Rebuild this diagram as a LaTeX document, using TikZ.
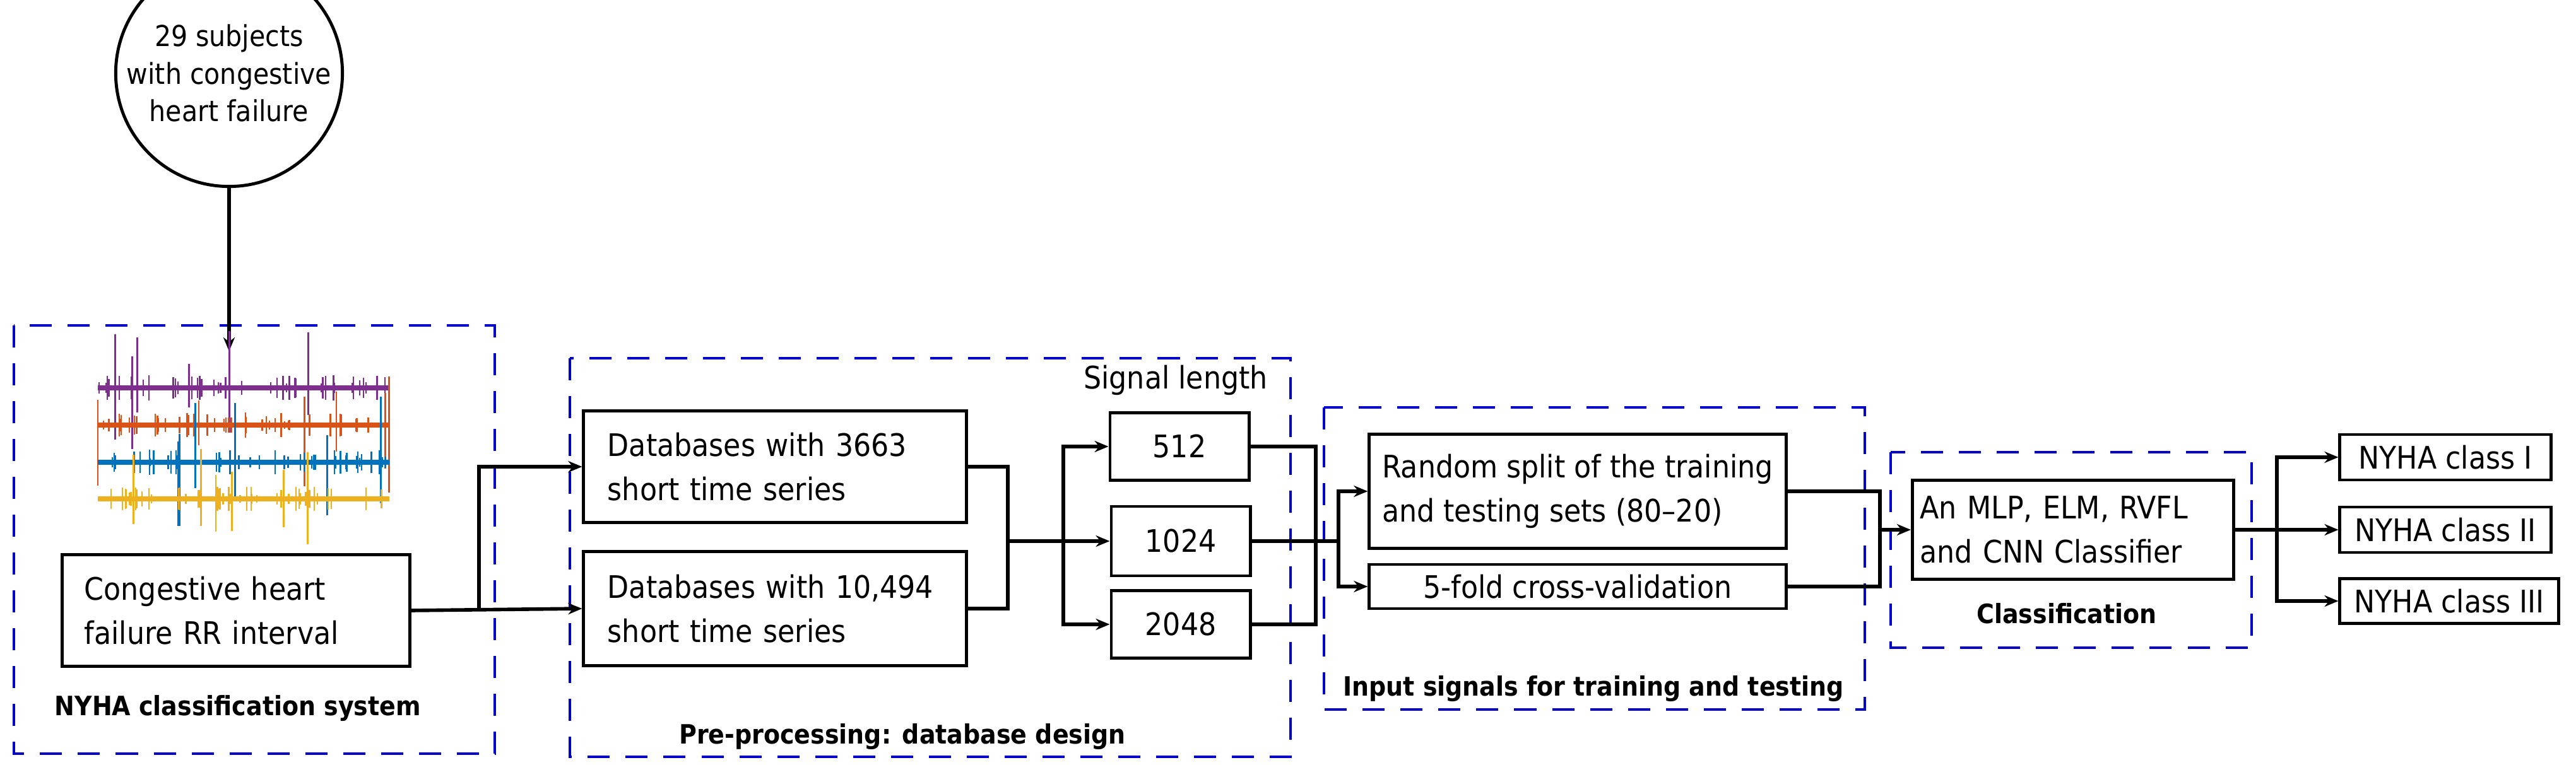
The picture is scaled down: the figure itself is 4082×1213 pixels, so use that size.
\documentclass[tikz,border=0pt]{standalone}
\usepackage{fontspec}
\setmainfont{DejaVu Sans Condensed}
\usetikzlibrary{arrows.meta}
\definecolor{dblue}{RGB}{0,0,200}
\definecolor{sigP}{RGB}{126,47,142}
\definecolor{sigO}{RGB}{217,83,25}
\definecolor{sigB}{RGB}{0,114,189}
\definecolor{sigY}{RGB}{237,177,32}
\begin{document}
\begin{tikzpicture}[x=0.01cm,y=-0.01cm,
  box/.style={draw,line width=1.4pt,fontsize},
  fontsize/.style={font=\fontsize{14}{20}\selectfont},
  lbox/.style={box,align=left,inner xsep=0pt},
  grp/.style={draw=dblue,line width=1.2pt,dash pattern=on 0.35cm off 0.25cm},
  gtitle/.style={font=\fontsize{12}{14}\selectfont\bfseries},
  conn/.style={line width=1.6pt},
  arr/.style={conn,-{Stealth[length=0.22cm,width=0.18cm]}}]
\useasboundingbox (0,0) rectangle (4082,1213);
% groups
\draw[grp] (22,516) rectangle (784,1195);
\draw[grp] (903,568) rectangle (2045,1200);
\draw[grp] (2098,646) rectangle (2955,1125);
\draw[grp] (2996,717) rectangle (3568,1027);
\node[gtitle] (t1) at (377,1123) {NYHA classification system};
\node[gtitle] (t2) at (1430,1168) {Pre-processing: database design};
\node[gtitle] (t3) at (2525,1092) {Input signals for training and testing};
\node[gtitle] (t4) at (3275,973) {Classification};
\node[fontsize,anchor=west] (sl) at (1705,603) {Signal length};
% circle
\node[draw,circle,line width=1.4pt,minimum size=2.2cm,align=center,inner sep=0pt,font=\fontsize{13}{17}\selectfont] (src) at (363,116) {29 subjects\\with congestive\\heart failure};
\coordinate (sigtop) at (363,557);
\draw[arr] (src) -- (sigtop);
% signals
\pgfmathsetseed{7}
\foreach \c/\y in {sigP/615,sigO/674,sigB/733,sigY/791}{
  \draw[\c,line width=2pt] (155,\y) -- (617,\y);
  \foreach \i in {1,...,45}{
    \pgfmathsetmacro\xx{155+462*rnd}
    \pgfmathsetmacro\hh{6+14*rnd}
    \draw[\c,line width=0.7pt] (\xx,\y-\hh) -- (\xx,\y+\hh);}
  \foreach \i in {1,...,6}{
    \pgfmathsetmacro\xx{155+462*rnd}
    \pgfmathsetmacro\ha{30+80*rnd}
    \pgfmathsetmacro\hb{30+80*rnd}
    \draw[\c,line width=0.8pt] (\xx,\y-\ha) -- (\xx,\y+\hb);}
}
% boxes
\node[lbox,text width=4.8cm,minimum height=1.76cm,inner xsep=0.35cm] (chf) at (374,968) {Congestive heart\\failure RR interval};
\node[lbox,text width=5.3cm,minimum height=1.76cm,inner xsep=0.38cm] (db1) at (1228,740) {Databases with 3663\\short time series};
\node[lbox,text width=5.3cm,minimum height=1.8cm,inner xsep=0.38cm] (db2) at (1228,965) {Databases with 10,494\\short time series};
\node[box,minimum width=2.2cm,minimum height=1.07cm] (l512) at (1869,708) {512};
\node[box,minimum width=2.2cm,minimum height=1.1cm] (l1024) at (1871,858) {1024};
\node[box,minimum width=2.2cm,minimum height=1.07cm] (l2048) at (1871,990) {2048};
\node[box,align=left,minimum width=6.6cm,minimum height=1.8cm] (rs) at (2500,779) {Random split of the training\\and testing sets (80--20)};
\node[box,minimum width=6.6cm,minimum height=0.7cm,inner sep=0pt] (cv) at (2500,930) {5-fold cross-validation};
\node[lbox,text width=4.85cm,minimum height=1.56cm,inner xsep=0.12cm] (cl) at (3285,840) {An MLP, ELM, RVFL\\and CNN Classifier};
\node[box,minimum width=3.34cm,minimum height=0.72cm,inner sep=0pt] (n1) at (3875,725) {NYHA class I};
\node[box,minimum width=3.34cm,minimum height=0.72cm,inner sep=0pt] (n2) at (3875,840) {NYHA class II};
\node[box,minimum width=3.46cm,minimum height=0.71cm,inner sep=0pt] (n3) at (3881,953) {NYHA class III};
% connectors
\coordinate (j1) at (759,968);
\draw[arr] (chf.east) -- (db2.west);
\draw[arr] (j1) |- (db1.west);
\coordinate (m1) at (1597,858);
\draw[conn] (db1.east) -| (m1);
\draw[conn] (db2.east) -| (m1);
\draw[arr] (m1) -- (l1024.west);
\coordinate (b1) at (1685,858);
\draw[arr] (b1) |- (l512.west);
\draw[arr] (b1) |- (l2048.west);
\coordinate (m2) at (2085,858);
\draw[conn] (l512.east) -| (m2);
\draw[conn] (l2048.east) -| (m2);
\coordinate (b2) at (2121,858);
\draw[conn] (l1024.east) -- (b2);
\draw[arr] (b2) |- (rs.west);
\draw[arr] (b2) |- (cv.west);
\coordinate (m3) at (2979,840);
\draw[conn] (rs.east) -| (m3);
\draw[conn] (cv.east) -| (m3);
\draw[arr] (m3) -- (cl.west);
\coordinate (b3) at (3608,840);
\draw[conn] (cl.east) -- (b3);
\draw[arr] (b3) |- (n1.west);
\draw[arr] (b3) -- (n2.west);
\draw[arr] (b3) |- (n3.west);
\end{tikzpicture}
\end{document}
